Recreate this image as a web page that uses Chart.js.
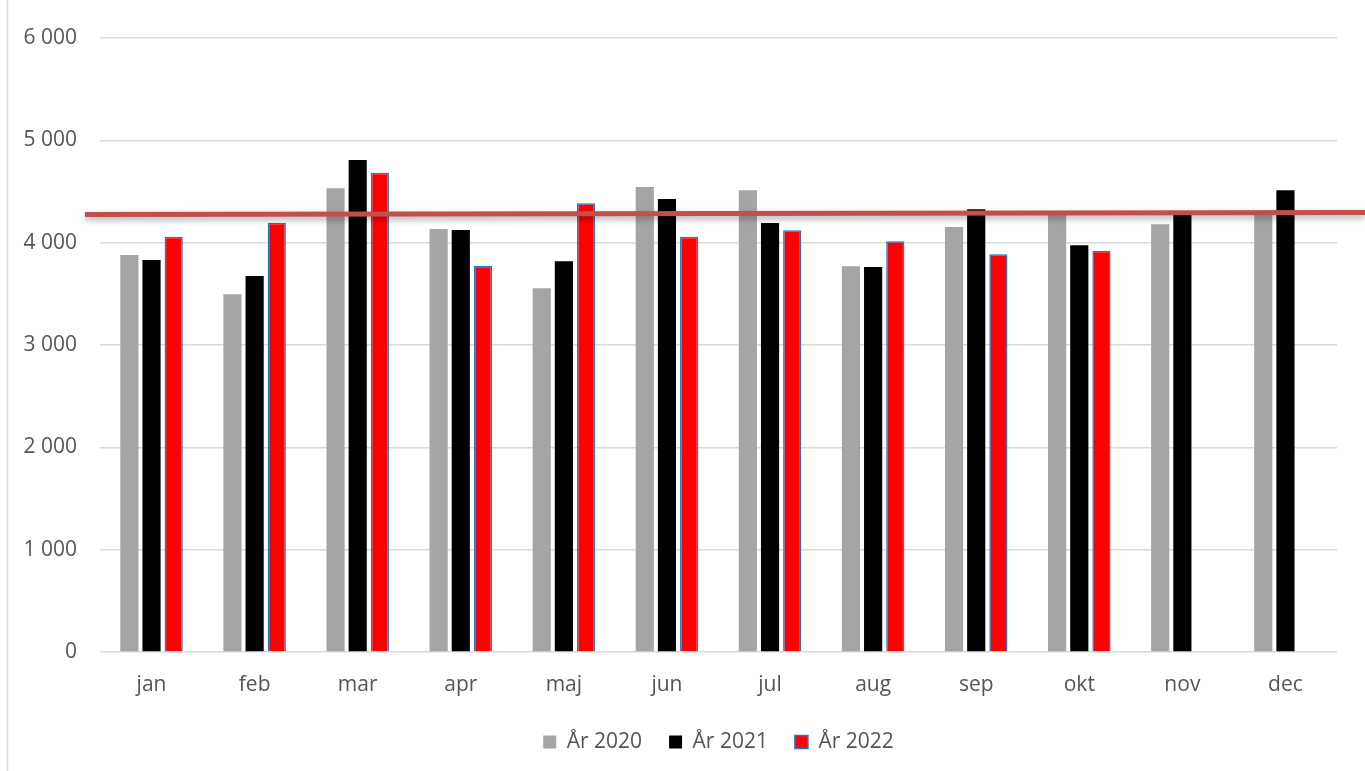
<!DOCTYPE html>
<html>
<head>
<meta charset="utf-8">
<script src="https://cdn.jsdelivr.net/npm/chart.js@4"></script>
<style>
html,body{margin:0;padding:0;background:#fff;}
#wrap{width:1365px;height:771px;position:relative;}
</style>
</head>
<body>
<div id="wrap"><canvas id="c"></canvas></div>
<script>
const categories = ["jan","feb","mar","apr","maj","jun","jul","aug","sep","okt","nov","dec"];
const seriesNames = ["År 2020","År 2021","År 2022"];
const values2020 = [3880,3495,4531,4134,3554,4544,4512,3769,4153,4300,4180,4290];
const values2021 = [3831,3674,4808,4124,3818,4427,4192,3762,4326,3974,4300,4512];
const values2022 = [4058,4195,4684,3775,4384,4058,4121,4013,3886,3922,null,null];
const referenceLine = [4275,4295]; // start and end value of the red horizontal line
const yTicks = [0,1000,2000,3000,4000,5000,6000];

const FONT = "'Open Sans', 'DejaVu Sans', sans-serif";
const TXT = '#555555';

const framePlugin = {
  id:'frame',
  beforeDraw(chart){
    const ctx = chart.ctx;
    ctx.save();
    ctx.strokeStyle = '#d9d9d9';
    ctx.lineWidth = 1.5;
    ctx.beginPath();
    ctx.moveTo(7.5,0);
    ctx.lineTo(7.5,chart.height);
    ctx.stroke();
    ctx.restore();
  }
};

const refLinePlugin = {
  id:'refLine',
  afterDatasetsDraw(chart){
    const y = chart.scales.y;
    const ctx = chart.ctx;
    const x0 = chart.chartArea.left - 15;
    const x1 = chart.width;
    const y0 = y.getPixelForValue(referenceLine[0]);
    const y1 = y.getPixelForValue(referenceLine[1]);
    ctx.save();
    ctx.shadowColor = 'rgba(0,0,0,0.35)';
    ctx.shadowBlur = 6;
    ctx.shadowOffsetY = 3;
    ctx.strokeStyle = '#C0504D';
    ctx.lineWidth = 5;
    ctx.beginPath();
    ctx.moveTo(x0,y0);
    ctx.lineTo(x1,y1);
    ctx.stroke();
    ctx.restore();
  }
};

new Chart(document.getElementById('c'),{
  type:'bar',
  data:{
    labels:categories,
    datasets:[
      {label:seriesNames[0],data:values2020,backgroundColor:'#A5A5A5',borderWidth:0},
      {label:seriesNames[1],data:values2021,backgroundColor:'#000000',borderWidth:0},
      {label:seriesNames[2],data:values2022,backgroundColor:'#FF0000',borderColor:'#1F78C8',borderWidth:1.5}
    ]
  },
  options:{
    responsive:true,
    maintainAspectRatio:false,
    animation:false,
    datasets:{bar:{categoryPercentage:0.645,barPercentage:0.82}},
    layout:{padding:{top:38,right:28,left:0,bottom:8.5}},
    plugins:{
      title:{display:false},
      tooltip:{enabled:false},
      legend:{
        position:'bottom',
        fullSize:false,
        labels:{
          font:{family:FONT,size:21},
          color:TXT,
          boxWidth:13,
          boxHeight:13,
          padding:27
        }
      }
    },
    scales:{
      x:{
        grid:{display:false},
        border:{display:false},
        ticks:{font:{family:FONT,size:21},color:TXT,padding:12,maxRotation:0},
        afterFit(s){ s.height = 52.5; }
      },
      y:{
        min:0,max:6000,
        afterBuildTicks(s){ s.ticks = yTicks.map(v=>({value:v})); },
        grid:{color:'#d9d9d9',lineWidth:1.5,drawTicks:false},
        border:{display:false},
        ticks:{
          font:{family:FONT,size:21},color:TXT,padding:23,
          callback:(v)=> v===0 ? '0' : String(v).replace(/\B(?=(\d{3})+(?!\d))/g,' ')
        },
        afterFit(s){ s.width = 100; }
      }
    }
  },
  plugins:[framePlugin,refLinePlugin]
});
</script>
</body>
</html>
